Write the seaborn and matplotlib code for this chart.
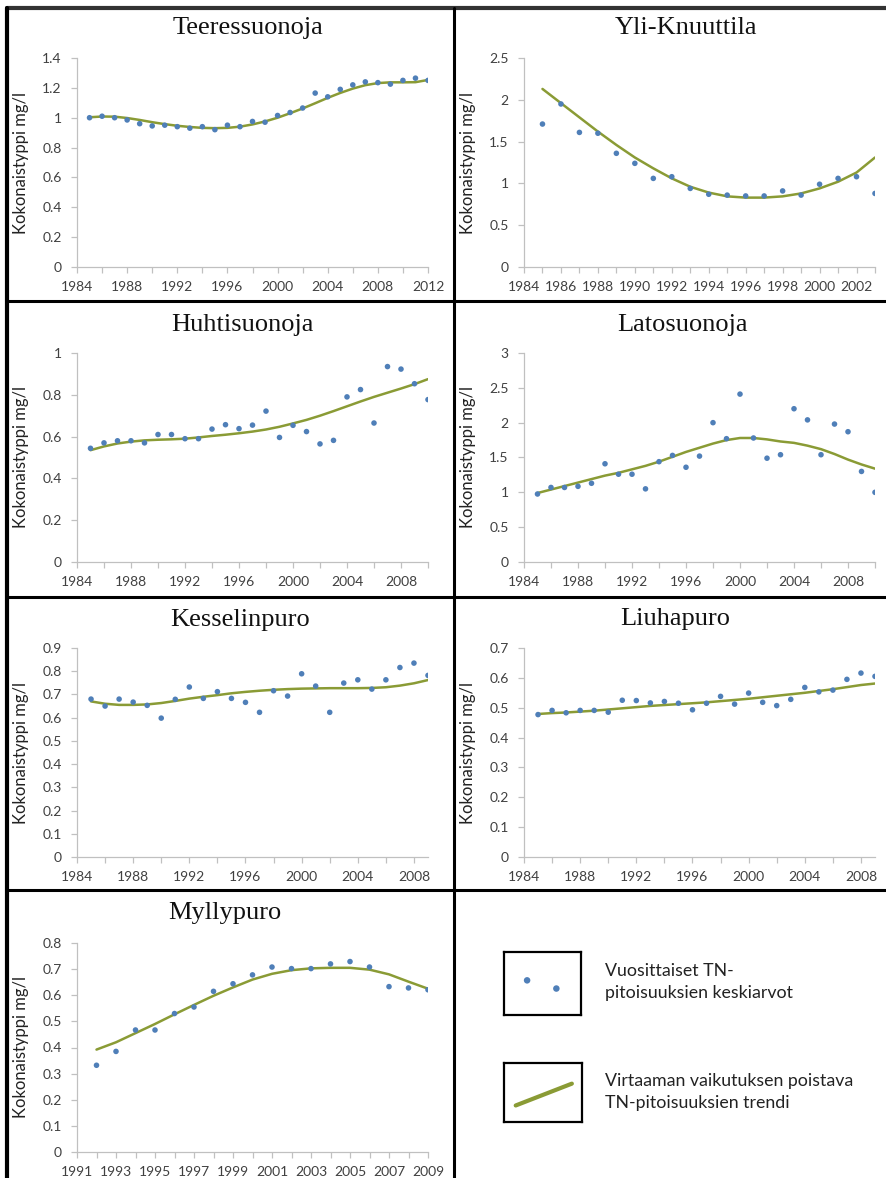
import numpy as np
import pandas as pd
import matplotlib.pyplot as plt
import seaborn as sns
from matplotlib.lines import Line2D
from matplotlib.ticker import FixedLocator, MultipleLocator

# === Data ===
names = ["Teeressuonoja", "Yli-Knuuttila", "Huhtisuonoja", "Latosuonoja",
         "Kesselinpuro", "Liuhapuro", "Myllypuro"]

teer_years = list(range(1985, 2013))
teer_obs = [1.00, 1.01, 1.00, 0.985, 0.96, 0.945, 0.95, 0.94, 0.93, 0.94, 0.92, 0.95, 0.94, 0.975,
            0.97, 1.015, 1.035, 1.065, 1.165, 1.14, 1.19, 1.22, 1.24, 1.235, 1.225, 1.25, 1.265, 1.25]
teer_trend = [1.003, 1.008, 1.007, 0.998, 0.985, 0.97, 0.957, 0.946, 0.938, 0.932, 0.930, 0.932,
              0.940, 0.955, 0.975, 1.000, 1.030, 1.062, 1.097, 1.133, 1.166, 1.195, 1.218, 1.232,
              1.237, 1.237, 1.238, 1.253]

yli_years = list(range(1985, 2004))
yli_obs = [1.71, 1.95, 1.61, 1.60, 1.36, 1.24, 1.06, 1.08, 0.94, 0.87, 0.86, 0.85, 0.85, 0.91,
           0.86, 0.99, 1.06, 1.08, 0.88]
yli_trend = [2.13, 1.96, 1.79, 1.62, 1.46, 1.31, 1.18, 1.06, 0.96, 0.89, 0.845, 0.83, 0.83, 0.845,
             0.88, 0.94, 1.02, 1.13, 1.31]

huhti_years = list(range(1985, 2011))
huhti_obs = [0.544, 0.57, 0.58, 0.58, 0.57, 0.61, 0.61, 0.59, 0.59, 0.636, 0.657, 0.638, 0.655,
             0.722, 0.596, 0.654, 0.624, 0.565, 0.582, 0.79, 0.825, 0.665, 0.935, 0.923, 0.853, 0.777]
huhti_trend = [0.535, 0.553, 0.567, 0.576, 0.582, 0.585, 0.587, 0.590, 0.596, 0.603, 0.609, 0.616,
               0.624, 0.634, 0.647, 0.663, 0.680, 0.700, 0.722, 0.745, 0.768, 0.790, 0.810, 0.830,
               0.851, 0.875]

lato_years = list(range(1985, 2011))
lato_obs = [0.976, 1.07, 1.07, 1.086, 1.13, 1.41, 1.26, 1.26, 1.05, 1.44, 1.53, 1.36, 1.52, 2.00,
            1.77, 2.41, 1.78, 1.49, 1.54, 2.20, 2.04, 1.54, 1.98, 1.87, 1.30, 1.00]
lato_trend = [0.99, 1.04, 1.09, 1.14, 1.19, 1.24, 1.28, 1.33, 1.38, 1.44, 1.51, 1.58, 1.64, 1.70,
              1.75, 1.78, 1.78, 1.76, 1.73, 1.71, 1.67, 1.62, 1.55, 1.47, 1.40, 1.34]

kessel_years = list(range(1985, 2010))
kessel_obs = [0.68, 0.65, 0.68, 0.667, 0.653, 0.598, 0.679, 0.732, 0.683, 0.712, 0.683, 0.666,
              0.623, 0.716, 0.693, 0.789, 0.736, 0.623, 0.749, 0.763, 0.723, 0.763, 0.816, 0.835, 0.782]
kessel_trend = [0.67, 0.66, 0.655, 0.655, 0.657, 0.663, 0.672, 0.682, 0.690, 0.697, 0.705, 0.711,
                0.716, 0.720, 0.723, 0.725, 0.726, 0.727, 0.727, 0.727, 0.728, 0.731, 0.738, 0.748, 0.762]

liuha_years = list(range(1985, 2010))
liuha_obs = [0.477, 0.491, 0.483, 0.491, 0.491, 0.485, 0.525, 0.524, 0.516, 0.521, 0.515, 0.493,
             0.515, 0.538, 0.512, 0.549, 0.518, 0.507, 0.528, 0.568, 0.553, 0.559, 0.595, 0.616, 0.605]
liuha_trend = [0.479, 0.482, 0.484, 0.487, 0.490, 0.494, 0.498, 0.502, 0.506, 0.509, 0.512, 0.515,
               0.518, 0.522, 0.526, 0.530, 0.535, 0.540, 0.545, 0.550, 0.556, 0.562, 0.569, 0.576, 0.581]

mylly_years = list(range(1992, 2010))
mylly_obs = [0.332, 0.385, 0.467, 0.467, 0.53, 0.555, 0.615, 0.644, 0.678, 0.708, 0.702, 0.702,
             0.72, 0.729, 0.708, 0.633, 0.628, 0.621]
mylly_trend = [0.392, 0.42, 0.455, 0.49, 0.527, 0.563, 0.598, 0.630, 0.660, 0.682, 0.696, 0.703,
               0.705, 0.705, 0.698, 0.68, 0.652, 0.625]

ylabel = "Kokonaistyppi mg/l"
legend_texts = ["Vuosittaiset TN-\npitoisuuksien keskiarvot",
                "Virtaaman vaikutuksen poistava\nTN-pitoisuuksien trendi"]

# === Style ===
sns.set_style("white")
plt.rcParams['font.family'] = ['Lato', 'DejaVu Sans']

W, H = 887, 1178
fig = plt.figure(figsize=(W / 100, H / 100), dpi=100)

def fx(px):
    return px / W

def fy(py):
    return 1 - py / H

dot_color = "#4f7fb8"
line_color = "#8a9b35"
axis_grey = "#c0c0c0"

# (years, obs, trend, xlim, xstep, ylim, ystep, left, right, top, bottom, title x, title y)
panels = [
    (teer_years, teer_obs, teer_trend, (1984, 2012), 4, 1.4, 0.2, 77, 428, 58, 267, 248, 28),
    (yli_years, yli_obs, yli_trend, (1984, 2003), 2, 2.5, 0.5, 524, 875, 58, 267, 686, 28),
    (huhti_years, huhti_obs, huhti_trend, (1984, 2010), 4, 1.0, 0.2, 77, 428, 353, 562, 242, 325),
    (lato_years, lato_obs, lato_trend, (1984, 2010), 4, 3.0, 0.5, 524, 875, 353, 562, 682, 325),
    (kessel_years, kessel_obs, kessel_trend, (1984, 2009), 4, 0.9, 0.1, 77, 428, 648, 857, 240, 620),
    (liuha_years, liuha_obs, liuha_trend, (1984, 2009), 4, 0.7, 0.1, 524, 875, 648, 857, 675, 619),
    (mylly_years, mylly_obs, mylly_trend, (1991, 2009), 2, 0.8, 0.1, 77, 428, 943, 1152, 225, 913),
]

for name, p in zip(names, panels):
    years, obs, trend, xlim, xstep, ymax, ystep, l, r, t, b, tx, ty = p
    ax = fig.add_axes([fx(l), fy(b), fx(r) - fx(l), fy(t) - fy(b)])
    df = pd.DataFrame({"year": years, "obs": obs, "trend": trend})
    sns.lineplot(data=df, x="year", y="trend", ax=ax, color=line_color, linewidth=1.8)
    sns.scatterplot(data=df, x="year", y="obs", ax=ax, color=dot_color, s=16,
                    edgecolor="none", zorder=3)
    ax.set_xlim(*xlim)
    ax.set_ylim(0, ymax)
    major = list(range(xlim[0], xlim[1] + 1, xstep))
    minor = list(np.arange(xlim[0] + xstep / 2, xlim[1] + 0.01, xstep / 2))
    ax.xaxis.set_major_locator(FixedLocator(major))
    ax.xaxis.set_minor_locator(FixedLocator(minor))
    ax.yaxis.set_major_locator(MultipleLocator(ystep))
    ax.set_xlabel("")
    ax.set_ylabel(ylabel, fontsize=12, color="#222222")
    ax.yaxis.set_label_coords(-0.137, 0.5)
    for s in ["top", "right"]:
        ax.spines[s].set_visible(False)
    for s in ["left", "bottom"]:
        ax.spines[s].set_color(axis_grey)
        ax.spines[s].set_linewidth(0.9)
    ax.tick_params(which="both", direction="out", color=axis_grey, width=0.9,
                   labelsize=10, labelcolor="#404040")
    ax.tick_params(which="major", length=4)
    ax.tick_params(which="minor", length=4)
    ax.tick_params(axis="x", which="both", bottom=True, pad=6)
    ax.tick_params(axis="y", left=True, pad=7)
    ax.yaxis.set_major_formatter(plt.FuncFormatter(lambda v, pos: f"{v:g}"))
    fig.text(fx(tx), fy(ty), name, ha="center", va="center", fontsize=19,
             family="Liberation Serif", color="#111111")

# === Legend panel ===
box1 = fig.add_axes([fx(504), fy(1015), fx(581) - fx(504), fy(952) - fy(1015)])
box1.scatter([0.3, 0.68], [0.55, 0.42], s=22, color=dot_color, edgecolor="none")
box2 = fig.add_axes([fx(504), fy(1122), fx(582) - fx(504), fy(1063) - fy(1122)])
box2.plot([0.15, 0.87], [0.28, 0.65], color=line_color, linewidth=3, solid_capstyle="round")
for bx in (box1, box2):
    bx.set_xlim(0, 1)
    bx.set_ylim(0, 1)
    bx.set_xticks([])
    bx.set_yticks([])
    for s in bx.spines.values():
        s.set_visible(True)
        s.set_color("black")
        s.set_linewidth(1.6)
fig.text(fx(605), fy(982), legend_texts[0], ha="left", va="center", fontsize=12.8,
         color="#222222", linespacing=1.4)
fig.text(fx(605), fy(1092), legend_texts[1], ha="left", va="center", fontsize=12.8,
         color="#222222", linespacing=1.4)

# === Table borders ===
lw = 2.2
fig.add_artist(Line2D([fx(7), 1], [fy(8), fy(8)], color="#333333", linewidth=3, transform=fig.transFigure))
fig.add_artist(Line2D([fx(7), fx(7)], [fy(8), 0], color="black", linewidth=3, transform=fig.transFigure))
fig.add_artist(Line2D([fx(454), fx(454)], [fy(8), 0], color="black", linewidth=lw, transform=fig.transFigure))
for yy in (301, 597, 890):
    fig.add_artist(Line2D([fx(7), 1], [fy(yy), fy(yy)], color="black", linewidth=lw,
                          transform=fig.transFigure))

fig.savefig("out.png", dpi=100)
